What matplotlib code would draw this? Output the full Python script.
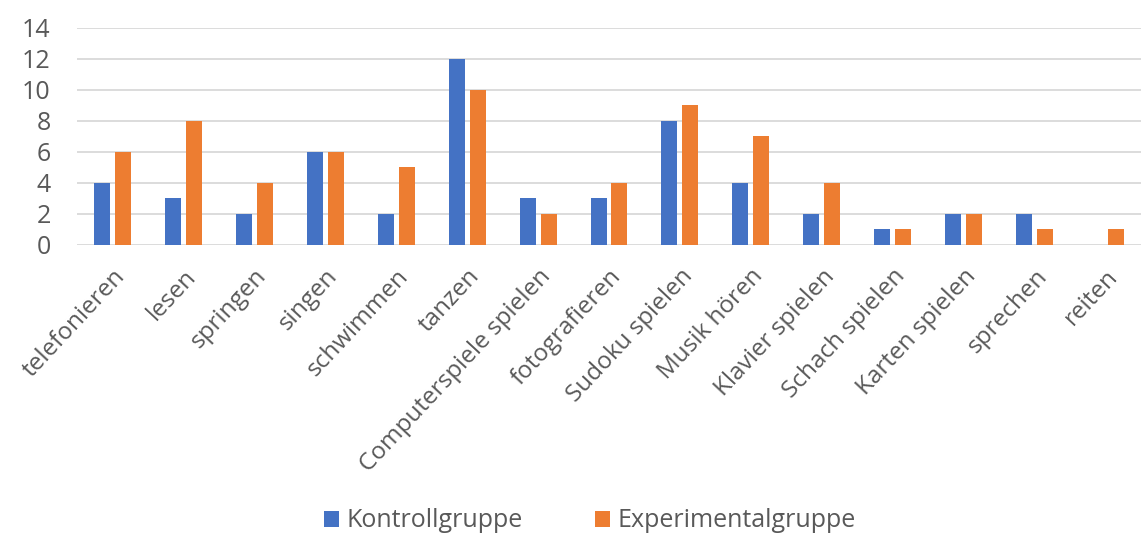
import matplotlib
matplotlib.use("Agg")
import matplotlib.pyplot as plt
import numpy as np

categories = ["telefonieren", "lesen", "springen", "singen", "schwimmen", "tanzen",
              "Computerspiele spielen", "fotografieren", "Sudoku spielen", "Musik hören",
              "Klavier spielen", "Schach spielen", "Karten spielen", "sprechen", "reiten"]
kontroll = [4, 3, 2, 6, 2, 12, 3, 3, 8, 4, 2, 1, 2, 2, 0]
experimental = [6, 8, 4, 6, 5, 10, 2, 4, 9, 7, 4, 1, 2, 1, 1]
yticks = [0, 2, 4, 6, 8, 10, 12, 14]

plt.rcParams['font.family'] = ['Open Sans', 'DejaVu Sans']
grey = "#595959"

fig = plt.figure(figsize=(11.41, 5.36), dpi=100)
ax = fig.add_axes([0.0675, 0.543, 0.9325, 0.405])

x = np.arange(len(categories))
w = 0.225
ax.bar(x - 0.1475, kontroll, w, color="#4472C4", label="Kontrollgruppe", zorder=3)
ax.bar(x + 0.1475, experimental, w, color="#ED7D31", label="Experimentalgruppe", zorder=3)

ax.set_xlim(-0.5, len(categories) - 0.5)
ax.set_ylim(0, 14)
ax.set_yticks(yticks)
ax.yaxis.grid(True, color="#D9D9D9", linewidth=1.3, zorder=0)
for s in ax.spines.values():
    s.set_visible(False)
ax.tick_params(axis="both", length=0, colors=grey)
ax.tick_params(axis="y", pad=19, labelsize=18)
ax.tick_params(axis="x", pad=14)
ax.set_xticks(x)
ax.set_xticklabels(categories, rotation=47, ha="right", rotation_mode="anchor", fontsize=17.5)

fig.legend(loc="center", bbox_to_anchor=(0.517, 0.028), ncol=2, frameon=False,
           fontsize=18, labelcolor=grey, handlelength=0.6, handleheight=0.6,
           columnspacing=2.9, handletextpad=0.3)

fig.savefig("out.png", dpi=100)
